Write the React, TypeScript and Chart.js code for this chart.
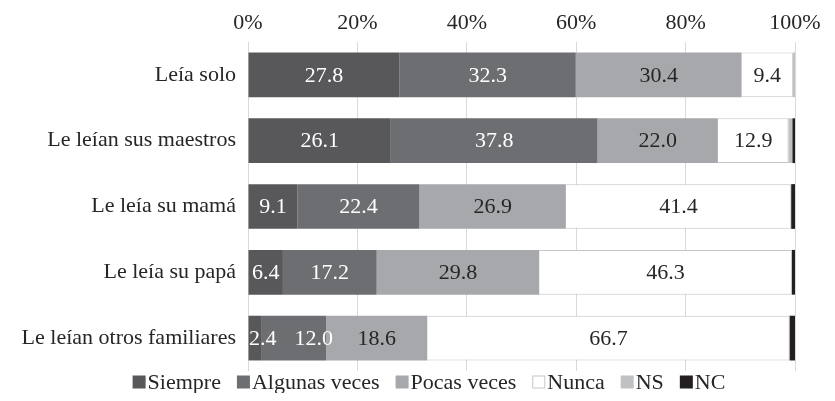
import React, { useEffect, useRef } from "react";
import { Chart, registerables } from "chart.js";

Chart.register(...registerables);

const categories = [
  "Leía solo",
  "Le leían sus maestros",
  "Le leía su mamá",
  "Le leía su papá",
  "Le leían otros familiares",
];
const seriesNames = ["Siempre", "Algunas veces", "Pocas veces", "Nunca", "NS", "NC"];
const siempre = [27.8, 26.1, 9.1, 6.4, 2.4];
const algunasVeces = [32.3, 37.8, 22.4, 17.2, 12.0];
const pocasVeces = [30.4, 22.0, 26.9, 29.8, 18.6];
const nunca = [9.4, 12.9, 41.4, 46.3, 66.7];
const ns = [0.4, 0.7, 0.0, 0.0, 0.0];
const nc = [0.0, 0.5, 0.7, 0.6, 1.0];
const tickValues = [0, 20, 40, 60, 80, 100];

const FONT = "'Liberation Serif', 'Times New Roman', serif";
const FSIZE = 22;
const TEXT = "#262626";

const raw = [siempre, algunasVeces, pocasVeces, nunca, ns, nc];

const labelPlugin = {
  id: "segLabels",
  afterDatasetsDraw(chart: any) {
    const ctx = chart.ctx;
    const left = chart.chartArea.left;
    ctx.save();
    ctx.font = `${FSIZE}px ${FONT}`;
    ctx.textAlign = "center";
    ctx.textBaseline = "middle";
    const colors = ["#ffffff", "#ffffff", TEXT, TEXT];
    const prevRight: number[] = [];
    for (let d = 0; d < 4; d++) {
      const meta = chart.getDatasetMeta(d);
      meta.data.forEach((el: any, i: number) => {
        const v = raw[d][i];
        const txt = v.toFixed(1);
        const w = ctx.measureText(txt).width;
        let x = (el.x + el.base) / 2;
        x = Math.max(x, left + w / 2 + 1);
        if (prevRight[i] !== undefined) x = Math.max(x, prevRight[i] + 18 + w / 2);
        prevRight[i] = x + w / 2;
        ctx.fillStyle = colors[d];
        ctx.fillText(txt, x, el.y + 1);
      });
    }
    ctx.restore();
  },
};

const legendPlugin = {
  id: "customLegend",
  afterDraw(chart: any) {
    const ctx = chart.ctx;
    ctx.save();
    ctx.font = `${FSIZE}px ${FONT}`;
    ctx.textBaseline = "middle";
    const box = 13;
    const gapBoxText = 2;
    const gapItem = 16;
    const items = chart.data.datasets.map((ds: any) => ({
      text: ds.label,
      fill: ds.backgroundColor,
      stroke: ds.borderColor,
      w: box + gapBoxText + ctx.measureText(ds.label).width,
    }));
    const total = items.reduce((s: number, it: any) => s + it.w, 0) + gapItem * (items.length - 1);
    let x = 421 - total / 2;
    const y = 374;
    items.forEach((it: any) => {
      ctx.fillStyle = it.fill;
      ctx.fillRect(x, y - box / 2, box, box);
      if (it.stroke) {
        ctx.strokeStyle = it.stroke;
        ctx.lineWidth = 1;
        ctx.strokeRect(x + 0.5, y - box / 2 + 0.5, box - 1, box - 1);
      }
      ctx.fillStyle = TEXT;
      ctx.textAlign = "left";
      ctx.fillText(it.text, x + box + gapBoxText, y + 1);
      x += it.w + gapItem;
    });
    ctx.restore();
  },
};

export default function App() {
  const ref = useRef<HTMLCanvasElement>(null);
  useEffect(() => {
    if (!ref.current) return;
    // 100% stacked: each row normalised by its own total
    const totals = categories.map((_, i) => raw.reduce((s, arr) => s + arr[i], 0));
    const fills = ["#58585b", "#6d6e71", "#a7a8ab", "#ffffff", "#c0c1c3", "#231f20"];
    const chart = new Chart(ref.current, {
      type: "bar",
      data: {
        labels: categories,
        datasets: seriesNames.map((name, k) => ({
          label: name,
          data: raw[k].map((v, i) => (v / totals[i]) * 100),
          backgroundColor: fills[k],
          borderColor: k === 3 ? "#c6c6c6" : undefined,
          borderWidth: k === 3 ? 1 : 0,
        })),
      },
      options: {
        indexAxis: "y",
        responsive: false,
        animation: false,
        maintainAspectRatio: false,
        layout: { padding: { left: 0, right: 32, top: 0, bottom: 22 } },
        datasets: { bar: { barPercentage: 0.68, categoryPercentage: 1 } },
        scales: {
          x: {
            position: "top",
            stacked: true,
            min: 0,
            max: 100,
            afterBuildTicks(scale: any) {
              scale.ticks = tickValues.map((v) => ({ value: v }));
            },
            afterFit(scale: any) {
              scale.height = 34;
            },
            ticks: {
              callback: (v: any) => v + "%",
              color: TEXT,
              font: { family: FONT, size: FSIZE },
              padding: 6,
              maxRotation: 0,
            },
            grid: { color: "#d9d9d9", drawTicks: false },
            border: { display: false },
          },
          y: {
            stacked: true,
            afterFit(scale: any) {
              scale.width = 240;
            },
            ticks: {
              color: TEXT,
              font: { family: FONT, size: FSIZE },
              padding: 4,
            },
            grid: { display: false },
            border: { display: false },
          },
        },
        plugins: {
          legend: { display: false },
          tooltip: { enabled: false },
        },
      },
      plugins: [labelPlugin, legendPlugin],
    });
    return () => chart.destroy();
  }, []);
  return <canvas ref={ref} width={819} height={385} />;
}
